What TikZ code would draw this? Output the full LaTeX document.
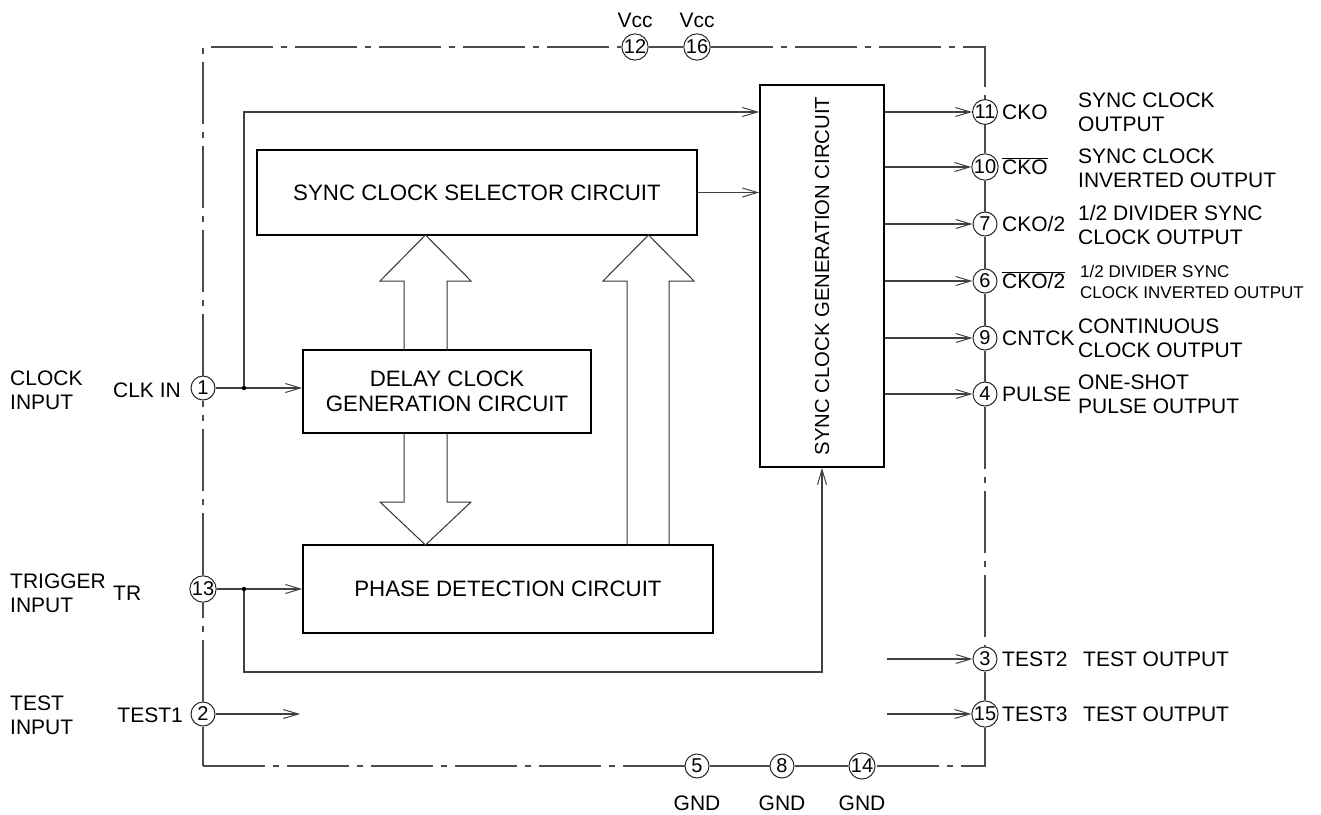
\documentclass[tikz,border=0pt]{standalone}
\usepackage{fontspec}
\setmainfont{Liberation Sans}
\usetikzlibrary{arrows.meta}
\newcommand{\fsz}{\fontsize{21}{24}\selectfont}
\newcommand{\fbk}{\fontsize{22.3}{24.5}\selectfont}
\newcommand{\fsm}{\fontsize{17}{21}\selectfont}
\begin{document}
\begin{tikzpicture}[x=1pt,y=-1pt,
  blk/.style={draw=black,line width=1.8pt,inner sep=0pt,align=center,font=\fbk},
  pin/.style={circle,draw=black!85,line width=1pt,fill=white,minimum size=24pt,inner sep=0pt,font=\fontsize{20}{20}\selectfont},
  conn/.style={draw=black!75,line width=1.1pt,-{Straight Barb[length=15pt,width=9pt,line width=1pt]}},
  dd/.style={draw=black!70,line width=1.1pt,dash pattern=on 62pt off 8pt on 6pt off 8pt},
  sol/.style={draw=black!70,line width=1.1pt},
  lbl/.style={inner sep=0pt,align=left,font=\fsz},
  hollow/.style={draw=black!80,line width=1pt,line join=miter}
]
\useasboundingbox (0,0) rectangle (1321,814);
\coordinate (TL) at (203,47);
\coordinate (TR) at (985,47);
\coordinate (BR) at (985,766);
\coordinate (BL) at (203,766);

% blocks
\node[blk,minimum width=440pt,minimum height=85pt] (sel) at (477,192.5) {SYNC CLOCK SELECTOR CIRCUIT};
\node[blk,minimum width=288pt,minimum height=83pt] (delay) at (447,391.5) {DELAY CLOCK\\GENERATION CIRCUIT};
\node[blk,minimum width=410pt,minimum height=88pt] (phase) at (508,589) {PHASE DETECTION CIRCUIT};
\node[blk,minimum width=124pt,minimum height=382pt,font=\fontsize{20.3}{24}\selectfont] (gen) at (822,276) {\rotatebox{90}{SYNC CLOCK GENERATION CIRCUIT}};

% pins
\node[pin] (p12) at (635,47) {12};
\node[pin] (p16) at (697,47) {16};
\node[pin] (p11) at (985,112) {11};
\node[pin] (p10) at (985,167) {10};
\node[pin] (p7) at (985,224) {7};
\node[pin] (p6) at (985,281) {6};
\node[pin] (p9) at (985,338) {9};
\node[pin] (p4) at (985,394) {4};
\node[pin] (p3) at (985,659) {3};
\node[pin] (p15) at (985,714) {15};
\node[pin] (p5) at (697,766) {5};
\node[pin] (p8) at (782,766) {8};
\node[pin] (p14) at (862,766) {14};
\node[pin] (p1) at (203,388) {1};
\node[pin] (p13) at (203,589) {13};
\node[pin] (p2) at (203,714) {2};

% outline
\draw[dd] (p1) -- (TL) -- (p12);
\draw[sol] (p12) -- (p16);
\draw[dd] (p16) -- (TR) -- (p11);
\draw[sol] (p11) -- (p10) -- (p7) -- (p6) -- (p9) -- (p4);
\draw[dd] (p4) -- (p3);
\draw[sol] (p3) -- (p15);
\draw[dd] (p15) -- (BR) -- (p14);
\draw[sol] (p14) -- (p8) -- (p5);
\draw[dd] (BL) -- (p5);
\draw[sol] (p2) -- (BL);
\draw[dd] (p2) -- (p13);
\draw[dd] (p13) -- (p1);

% hollow arrows
\draw[hollow] (404,350) -- (404,281) -- (380,281) -- (425.5,235) -- (471,281) -- (447,281) -- (447,350);
\draw[hollow] (404,433) -- (404,502) -- (380,502) -- (425.5,545) -- (471,502) -- (447,502) -- (447,433);
\draw[hollow] (627,545) -- (627,281) -- (603,281) -- (648.5,235) -- (694,281) -- (669,281) -- (669,545);

% connectors
\coordinate (j1) at (244,388);
\coordinate (k1) at (244,112);
\draw[conn] (p1) -- (delay.west |- p1);
\draw[conn] (j1) -- (k1) -- (gen.west |- k1);
\fill (j1) circle (2.2pt);
\draw[conn] (sel.east) -- (gen.west |- sel.east);

\coordinate (j13) at (244,589);
\coordinate (fb1) at (244,672);
\coordinate (fb2) at (822,672);
\draw[conn] (p13) -- (phase.west |- p13);
\draw[conn] (j13) -- (fb1) -- (fb2) -- (fb2 |- gen.south);
\fill (j13) circle (2.2pt);

\foreach \p in {p11,p10,p7,p6,p9,p4} \draw[conn] (gen.east |- \p) -- (\p);

\coordinate (t2) at (887,659);
\coordinate (t3) at (887,714);
\coordinate (t1) at (300,714);
\draw[conn] (t2) -- (p3);
\draw[conn] (t3) -- (p15);
\draw[conn] (p2) -- (t1);

% labels top / bottom
\node[lbl] (vcc12) at (635,20) {Vcc};
\node[lbl] (vcc16) at (697,20) {Vcc};
\node[lbl] (g5) at (697,803) {GND};
\node[lbl] (g8) at (782,803) {GND};
\node[lbl] (g14) at (862,803) {GND};

% left labels
\node[lbl,anchor=west] (lclk) at (10,390) {CLOCK\\INPUT};
\node[lbl,anchor=base east] (nclk) at (181,397) {CLK IN};
\node[lbl,anchor=west] (ltr) at (10,593) {TRIGGER\\INPUT};
\node[lbl,anchor=base west] (ntr) at (113,600) {TR};
\node[lbl,anchor=west] (ltest) at (10,715) {TEST\\INPUT};
\node[lbl,anchor=base east] (ntest) at (183,722) {TEST1};

% right pin names
\node[lbl,anchor=base west] (n11) at (1002,119.5) {CKO};
\node[lbl,anchor=base west] (n10) at (1002,174.5) {$\overline{\mbox{CKO}}$};
\node[lbl,anchor=base west] (n7) at (1002,231.5) {CKO/2};
\node[lbl,anchor=base west] (n6) at (1002,288.5) {$\overline{\mbox{CKO/2}}$};
\node[lbl,anchor=base west] (n9) at (1002,345.5) {CNTCK};
\node[lbl,anchor=base west] (n4) at (1002,401.5) {PULSE};
\node[lbl,anchor=base west] (n3) at (1002,666.5) {TEST2};
\node[lbl,anchor=base west] (n15) at (1002,721.5) {TEST3};

% right descriptions
\node[lbl,anchor=west] (d11) at (1078,112) {SYNC CLOCK\\OUTPUT};
\node[lbl,anchor=west] (d10) at (1078,168) {SYNC CLOCK\\INVERTED OUTPUT};
\node[lbl,anchor=west] (d7) at (1078,225) {1/2 DIVIDER SYNC\\CLOCK OUTPUT};
\node[lbl,anchor=west,font=\fsm] (d6) at (1080,281.5) {1/2 DIVIDER SYNC\\CLOCK INVERTED OUTPUT};
\node[lbl,anchor=west] (d9) at (1078,338) {CONTINUOUS\\CLOCK OUTPUT};
\node[lbl,anchor=west] (d4) at (1078,394) {ONE-SHOT\\PULSE OUTPUT};
\node[lbl,anchor=west] (d3) at (1083,659) {TEST OUTPUT};
\node[lbl,anchor=west] (d15) at (1083,714) {TEST OUTPUT};
\end{tikzpicture}
\end{document}
